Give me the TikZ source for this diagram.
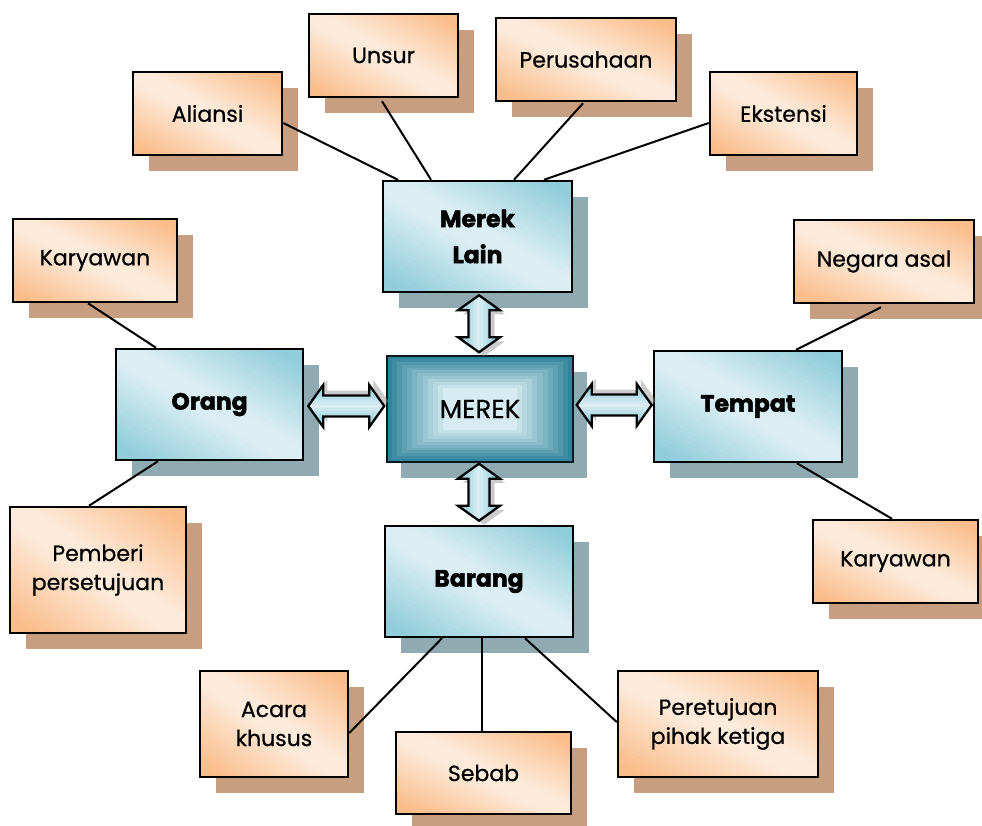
\documentclass[tikz,border=0pt]{standalone}
\usepackage{fontspec}
\setmainfont{Poppins}
\usetikzlibrary{calc}
\pgfdeclarelayer{bg}
\pgfdeclarelayer{lines}
\pgfsetlayers{bg,lines,main}
\definecolor{odark}{RGB}{250,190,140}
\definecolor{olight}{RGB}{253,234,218}
\definecolor{bdark}{RGB}{146,205,220}
\definecolor{blight}{RGB}{219,238,243}
\definecolor{oshadow}{RGB}{199,158,128}
\definecolor{bshadow}{RGB}{143,170,176}
\definecolor{mteal}{RGB}{49,132,155}
\definecolor{mlight}{RGB}{214,236,242}
\tikzset{
  leaf/.style={draw=black, line width=2.5pt, rectangle, align=center, inner sep=2pt,
    font=\fontsize{22}{29}\selectfont\addfontfeatures{FakeBold=0.6}},
  hub/.style={draw=black, line width=2.5pt, rectangle, align=center, inner sep=2pt,
    font=\fontsize{23.5}{36}\selectfont\bfseries\addfontfeatures{FakeBold=2}},
  link/.style={draw=black, line width=2pt},
  arrowline/.style={draw=black, line width=2.3pt, line join=miter},
  arrowshadow/.style={fill=black!45, opacity=0.45},
}
% diagonal gradient: x0 y0 w h dark light
\newcommand\diaggrad[6]{%
  \begin{scope}
    \clip (#1,#2) rectangle ++(#3,#4);
    \begin{scope}[shift={(#1,#2)}, xscale=#3, yscale=#4]
      \foreach \a in {-1.00,-0.95,...,0.96}{
        \pgfmathsetmacro\b{\a+0.07}
        \pgfmathsetmacro\m{abs(\a+0.025)}
        \pgfmathtruncatemacro\p{100*max(0,min(1,(\m-0.1)/0.75))}
        \fill[#5!\p!#6] (\a,0) -- (\b,0) -- ({\b+1},1) -- ({\a+1},1) -- cycle;
      }
    \end{scope}
  \end{scope}}
\newcommand\leafbox[6]{%
  \begin{pgfonlayer}{bg}
    \fill[oshadow] ({#2-#4/2+16},{#3-#5/2+16}) rectangle ++(#4,#5);
  \end{pgfonlayer}
  \diaggrad{#2-#4/2}{#3-#5/2}{#4}{#5}{odark}{olight}
  \node[leaf, minimum width=#4, minimum height=#5] (#1) at (#2,#3) {#6};}
\newcommand\hubbox[6]{%
  \begin{pgfonlayer}{bg}
    \fill[bshadow] ({#2-#4/2+16},{#3-#5/2+16}) rectangle ++(#4,#5);
  \end{pgfonlayer}
  \diaggrad{#2-#4/2}{#3-#5/2}{#4}{#5}{bdark}{blight}
  \node[hub, minimum width=#4, minimum height=#5] (#1) at (#2,#3) {#6};}
\newcommand\arrowpath[1]{(0,0) -- (15,21) -- (15,10.5) -- (#1-15,10.5) -- (#1-15,21) -- (#1,0)
      -- (#1-15,-21) -- (#1-15,-10.5) -- (15,-10.5) -- (15,-21) -- cycle}
% double arrow: #1 start point, #2 rotation, #3 length
\newcommand\dblarr[3]{%
  \begin{scope}[shift={#1}, rotate=#2]
    \fill[arrowshadow, shift={(4,-5)}] \arrowpath{#3};
    \begin{scope}
      \clip \arrowpath{#3};
      \foreach \yy in {-22,-19,...,20}{
        \pgfmathtruncatemacro\p{100*min(1,abs(\yy+1.5)/17)}
        \fill[bdark!\p!blight] (-1,\yy) rectangle (#3+1,\yy+3.5);
      }
    \end{scope}
    \draw[arrowline] \arrowpath{#3};
  \end{scope}}
\begin{document}
\begin{tikzpicture}[x=1pt,y=-1pt]
\useasboundingbox (0,0) rectangle (982,825);
% leaves
\leafbox{A}{207.5}{113.5}{149}{83}{Aliansi}
\leafbox{U}{383.5}{55.5}{149}{83}{Unsur}
\leafbox{P}{586}{59.5}{180}{83}{Perusahaan}
\leafbox{E}{783.5}{113.5}{147}{83}{Ekstensi}
\leafbox{KL}{95}{260.5}{164}{83}{Karyawan}
\leafbox{N}{884}{261.5}{180}{83}{Negara asal}
\leafbox{PB}{98}{570}{176}{126}{Pemberi\\persetujuan}
\leafbox{KR}{895.5}{561.5}{165}{83}{Karyawan}
\leafbox{AC}{274}{724}{148}{106}{Acara\\khusus}
\leafbox{S}{483.5}{773}{175}{82}{Sebab}
\leafbox{PR}{718}{724}{200}{106}{Peretujuan\\pihak ketiga}
% hubs
\hubbox{ML}{477.5}{236.5}{189}{111}{Merek\\Lain}
\hubbox{O}{209.5}{404.5}{187}{111}{Orang}
\hubbox{T}{748}{406.5}{188}{111}{Tempat}
\hubbox{B}{479}{581.5}{188}{111}{Barang}
% centre
\begin{pgfonlayer}{bg}
  \fill[bshadow] (401,372) rectangle ++(186,106);
\end{pgfonlayer}
\foreach \i in {0,...,11}{
  \pgfmathsetmacro\s{1-0.6*\i/11}
  \pgfmathtruncatemacro\p{100*\i/11}
  \fill[mlight!\p!mteal] ({480-93*\s},{409-53*\s}) rectangle ({480+93*\s},{409+53*\s});
}
\node[draw=black!80!mteal, line width=1.5pt, minimum width=186, minimum height=106,
  font=\fontsize{26}{29}\selectfont\addfontfeatures{FakeBold=0.6}] (M) at (480,409) {MEREK};
% connectors
\begin{pgfonlayer}{lines}
\draw[link] ($(A.east)+(0,9.5)$) -- ($(ML.north)+(-79.5,0)$);
\draw[link] ($(U.south)+(-1.5,3)$) -- ($(ML.north)+(-46.5,0)$);
\draw[link] ($(P.south)+(-3,1)$) -- ($(ML.north)+(36.5,0)$);
\draw[link] ($(E.west)+(0,9.5)$) -- ($(ML.north)+(66.5,0)$);
\draw[link] ($(KL.south)+(-7,0)$) -- ($(O.north)+(-53.5,0)$);
\draw[link] ($(O.south)+(-51.5,0)$) -- ($(PB.north)+(-9,0)$);
\draw[link] ($(N.south)+(-3,3)$) -- ($(T.north)+(48,0)$);
\draw[link] ($(T.south)+(49,0)$) -- ($(KR.north)+(-3.5,0)$);
\draw[link] ($(B.south)+(-37,0)$) -- ($(AC.east)+(0,9)$);
\draw[link] ($(B.south)+(3,0)$) -- ($(S.north)+(-1.5,0)$);
\draw[link] ($(B.south)+(46,0)$) -- ($(PR.west)+(0,-2)$);
\end{pgfonlayer}
% double arrows
\dblarr{($(ML.south)+(1.5,2)$)}{-90}{57}
\dblarr{($(O.east)+(4,1.5)$)}{0}{76}
\dblarr{($(M.east)+(3,-4)$)}{0}{75}
\dblarr{($(M.south)+(-1,1)$)}{-90}{57}
\end{tikzpicture}
\end{document}
